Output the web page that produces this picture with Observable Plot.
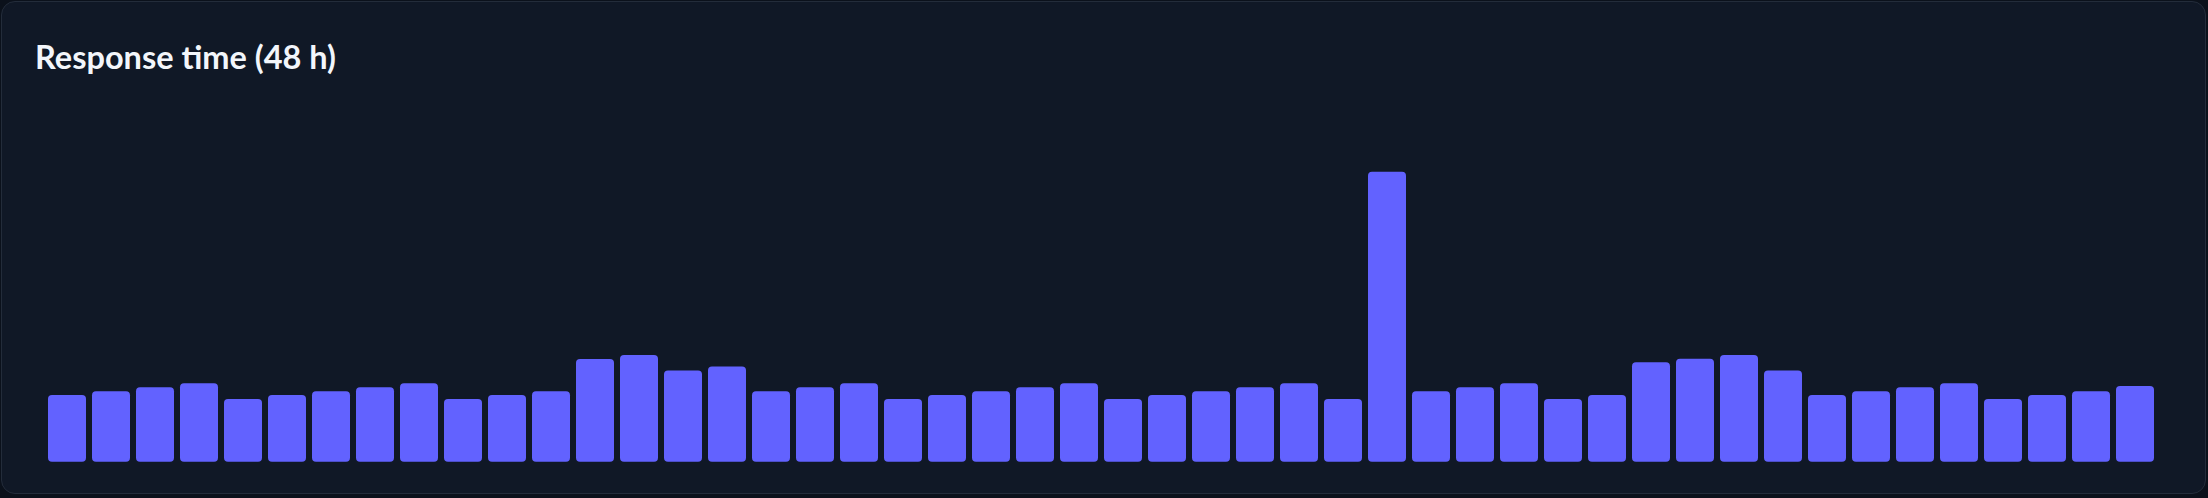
<!DOCTYPE html>
<html>
<head>
<meta charset="utf-8">
<script src="https://cdn.jsdelivr.net/npm/d3@7"></script>
<script src="https://cdn.jsdelivr.net/npm/@observablehq/plot@0.6"></script>
<style>
  html, body { margin: 0; padding: 0; background: #0b111b; width: 2208px; height: 498px; overflow: hidden; }
  #card {
    position: absolute; left: 1px; top: 1px; width: 2203px; height: 491px;
    background: #101826; border: 1.5px solid #232c3a; border-radius: 14px;
  }
  #title {
    position: absolute; left: 35px; top: 37.4px; margin: 0;
    font-family: Lato, "Open Sans", sans-serif; font-weight: 700; font-size: 32.5px;
    color: #f3f6fb; line-height: 40px; white-space: nowrap;
  }
  #chart { position: absolute; left: 0; top: 160px; }
</style>
</head>
<body>
<div id="card"></div>
<div id="title">Response time (48 h)</div>
<div id="chart"></div>
<script>
const hours = Array.from({length: 48}, (_, i) => `${i}`);
const responseMs = [
  170, 180, 190, 200, 160, 170, 180, 190, 200, 160, 170, 180,
  262, 272, 233, 243, 180, 190, 200, 160, 170, 180, 190, 200,
  160, 170, 180, 190, 200, 160, 740, 180, 190, 200, 160, 170,
  254, 263, 272, 233, 170, 180, 190, 200, 160, 170, 180, 193
];
const data = hours.map((h, i) => ({hour: h, ms: responseMs[i]}));

const chart = Plot.plot({
  width: 2208,
  height: 310,
  marginTop: 11.7,
  marginBottom: 8.3,
  marginLeft: 43.5,
  marginRight: 49.3,
  style: {background: "transparent"},
  x: {domain: hours, paddingInner: 0.138, paddingOuter: 0.069, axis: null},
  y: {domain: [0, 740], axis: null},
  marks: [
    Plot.barY(data, {x: "hour", y: "ms", fill: "#6262ff", rx: 4})
  ]
});
document.getElementById("chart").appendChild(chart);
</script>
</body>
</html>
